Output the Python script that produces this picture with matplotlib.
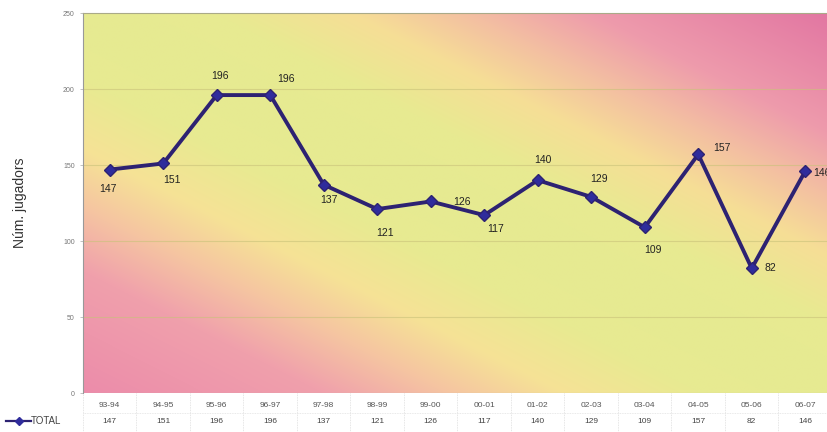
import numpy as np
import matplotlib
matplotlib.use('Agg')
import matplotlib.pyplot as plt
import matplotlib.transforms as mtransforms

plt.rcParams['font.family'] = ['Liberation Sans', 'DejaVu Sans']

seasons = ['93-94', '94-95', '95-96', '96-97', '97-98', '98-99', '99-00',
           '00-01', '01-02', '02-03', '03-04', '04-05', '05-06', '06-07']
total = [147, 151, 196, 196, 137, 121, 126, 117, 140, 129, 109, 157, 82, 146]
series_name = 'TOTAL'
y_ticks = [0, 50, 100, 150, 200, 250]

# where each value label sits relative to its point (pixels)
label_offsets = [(-2, -19), (9, -17), (3, 19), (16, 16), (5, -15), (8, -24), (31, -1),
                 (11, -14), (5, 20), (8, 18), (8, -23), (24, 6), (19, 0), (17, -2)]

line_col = '#2d2272'
mark_col = '#2f2c9c'

fig = plt.figure(figsize=(8.28, 4.32), dpi=100)
ax = fig.add_axes([83 / 828, 39 / 432, 749 / 828, 380 / 432])

# gradient background: yellow-green along the diagonal, pink towards the corners
H, W = 200, 400
u = np.linspace(0, 1, W)[None, :]
w = np.linspace(0, 1, H)[:, None]
d = u - w
a = np.abs(d)
stops = [0.0, 0.18, 0.36, 0.52, 0.68, 1.0]
c_lo = [(230, 234, 145), (232, 234, 145), (246, 226, 150), (245, 195, 162),
        (240, 160, 172), (236, 140, 170)]
c_hi = [(230, 234, 145), (232, 234, 145), (246, 222, 150), (243, 190, 162),
        (238, 155, 172), (226, 118, 162)]
img = np.zeros((H, W, 3))
for k in range(3):
    lo = np.interp(a, stops, [c[k] for c in c_lo])
    hi = np.interp(a, stops, [c[k] for c in c_hi])
    img[:, :, k] = np.where(d > 0, hi, lo) / 255.0
ax.imshow(img, extent=[0, 1, 0, 1], transform=ax.transAxes, aspect='auto',
          interpolation='bilinear', zorder=0)

x = np.arange(len(seasons))
ax.set_xlim(-0.5, len(seasons) - 0.5)
ax.set_ylim(0, 250)

for yv in y_ticks[1:-1]:
    ax.axhline(yv, color='#c9c27a', lw=0.8, alpha=0.6, zorder=1)

ax.plot(x, total, color=line_col, lw=2.8, zorder=3)
ax.plot(x, total, ls='none', marker='D', ms=6.5, color=mark_col,
        markeredgecolor=line_col, zorder=4)

for xi, v, (dx, dy) in zip(x, total, label_offsets):
    ax.annotate(str(v), (xi, v), xytext=(dx, dy), textcoords='offset pixels',
                ha='center', va='center', fontsize=7.5, color='#222222', zorder=5)

ax.set_yticks(y_ticks)
ax.set_yticklabels([str(t) for t in y_ticks], fontsize=5, color='#777777')
ax.tick_params(axis='y', length=2, width=0.5, color='#aaaaaa', pad=4)
ax.set_xticks([])
for side in ['right', 'bottom']:
    ax.spines[side].set_visible(False)
ax.spines['left'].set_color('#999999')
ax.spines['left'].set_linewidth(0.8)
ax.spines['top'].set_color('#aaaa88')
ax.spines['top'].set_linewidth(0.8)
ax.axhline(0, color='#bbbbbb', lw=0.8, zorder=2)

ax.set_ylabel('Núm. jugadors', fontsize=10, color='#333333', labelpad=26)

# data table under the plot
tr = mtransforms.blended_transform_factory(ax.transData, ax.transAxes)
for i, (s, v) in enumerate(zip(seasons, total)):
    ax.text(i, -0.032, s, transform=tr, ha='center', va='center', fontsize=6,
            color='#555555', clip_on=False)
    ax.text(i, -0.074, str(v), transform=tr, ha='center', va='center', fontsize=6,
            color='#444444', clip_on=False)
for i in range(len(seasons) + 1):
    ax.plot([i - 0.5, i - 0.5], [0, -0.11], transform=tr, color='#dddddd', lw=0.6,
            ls=(0, (1, 1)), clip_on=False)
ax.plot([-0.5, len(seasons) - 0.5], [-0.053, -0.053], transform=tr, color='#e2e2e2',
        lw=0.6, ls=(0, (1, 1)), clip_on=False)

# legend key for the table row
fig.lines.append(plt.Line2D([6 / 828, 31 / 828], [11 / 432, 11 / 432], color=line_col,
                            lw=1.6, transform=fig.transFigure))
fig.lines.append(plt.Line2D([19 / 828], [11 / 432], marker='D', ms=4, color=mark_col,
                            transform=fig.transFigure))
fig.text(31 / 828, 11 / 432, series_name, fontsize=7, color='#444444', va='center')

fig.savefig('out.png', dpi=100)
